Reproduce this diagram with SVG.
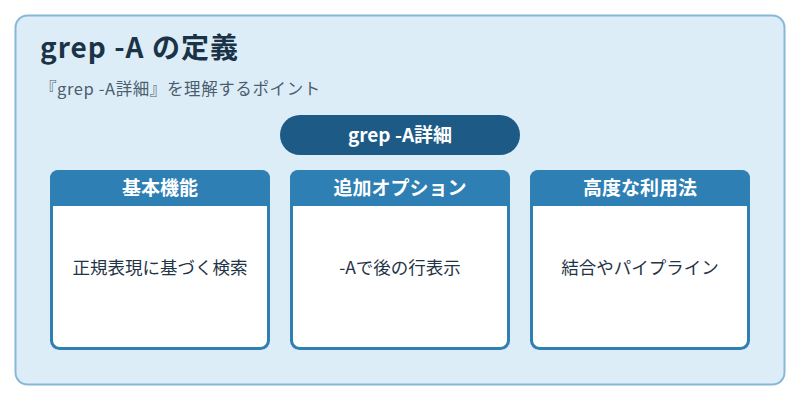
<svg xmlns="http://www.w3.org/2000/svg" width="800" height="400" viewBox="0 0 800 400">
<style>
text{font-family:"Noto Sans CJK JP",sans-serif}
.card{fill:#fff;stroke:#2e7fb4;stroke-width:3}
.hd{fill:#2e7fb4}
.ht{fill:#fff;font-size:19px;font-weight:bold;text-anchor:middle}
.bt{fill:#1f3446;font-size:17.5px;text-anchor:middle}
</style>
<rect x="15.5" y="15.5" width="769" height="369" rx="12" fill="#ddedf7" stroke="#86b8d8" stroke-width="2"/>
<text x="40" y="58" font-size="28" font-weight="bold" fill="#1a3347" letter-spacing="1">grep -A の定義</text>
<text x="40" y="95" font-size="16.5" fill="#4a5e70" letter-spacing="0.6">『grep -A詳細』を理解するポイント</text>
<g id="center"><rect x="280" y="115" width="240" height="40" rx="20" fill="#1d5a86"/><text x="400" y="142" font-size="19" font-weight="bold" fill="#fff" text-anchor="middle">grep -A詳細</text></g>
<g id="n1"><rect class="card" x="51.5" y="171.5" width="217" height="177" rx="8"/><path class="hd" d="M50 206V178a8 8 0 0 1 8-8h204a8 8 0 0 1 8 8v28z"/><text class="ht" x="160" y="195">基本機能</text><text class="bt" x="160" y="274">正規表現に基づく検索</text></g>
<g id="n2"><rect class="card" x="291.5" y="171.5" width="217" height="177" rx="8"/><path class="hd" d="M290 206V178a8 8 0 0 1 8-8h204a8 8 0 0 1 8 8v28z"/><text class="ht" x="400" y="195">追加オプション</text><text class="bt" x="400" y="274">-Aで後の行表示</text></g>
<g id="n3"><rect class="card" x="531.5" y="171.5" width="217" height="177" rx="8"/><path class="hd" d="M530 206V178a8 8 0 0 1 8-8h204a8 8 0 0 1 8 8v28z"/><text class="ht" x="640" y="195">高度な利用法</text><text class="bt" x="640" y="274">結合やパイプライン</text></g>
<g id="connectors"/>
</svg>
